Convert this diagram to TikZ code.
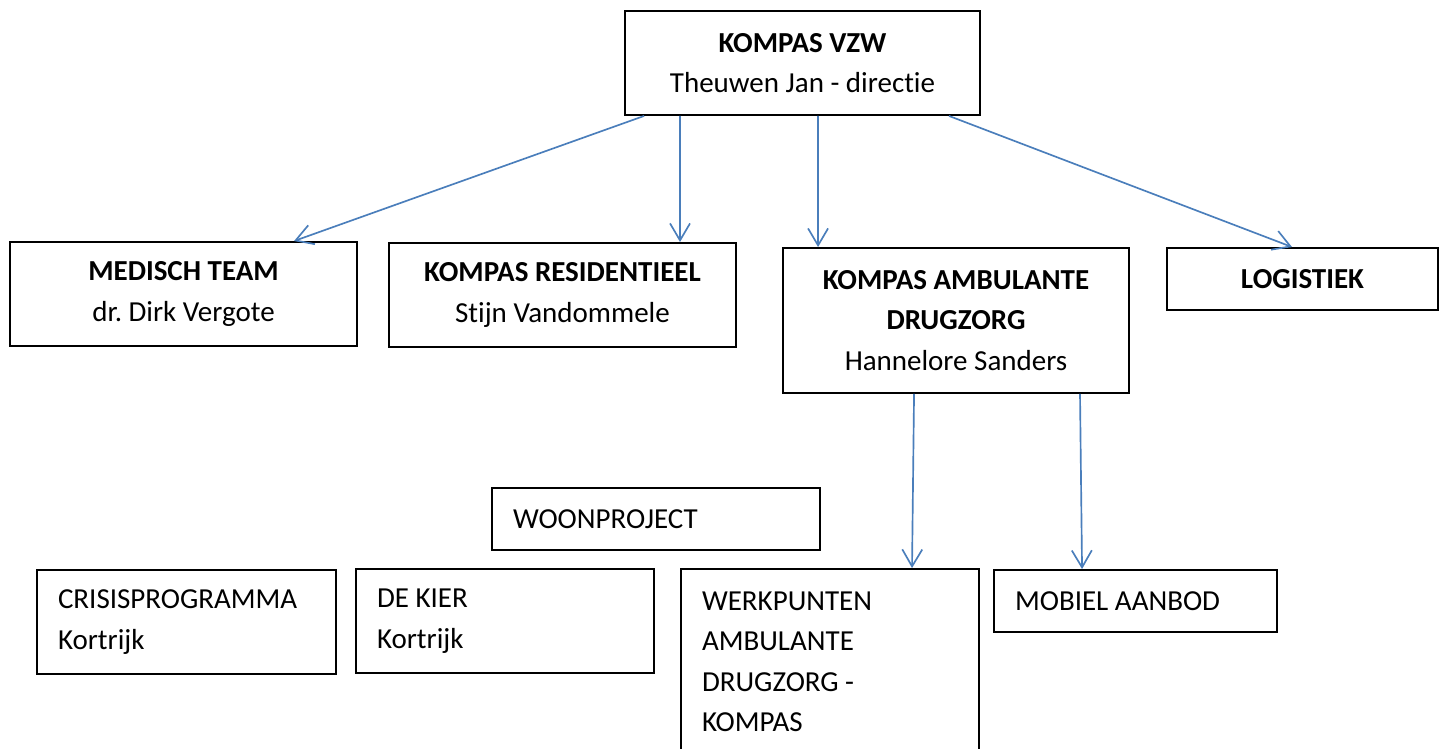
\documentclass[tikz,border=0pt]{standalone}
\usepackage{fontspec}
\setmainfont{Carlito}[Ligatures=NoCommon]
\usetikzlibrary{arrows.meta}
\definecolor{linkblue}{RGB}{74,126,187}
\frenchspacing

\begin{document}
\begin{tikzpicture}[x=0.02cm, y=-0.02cm,
    orgbox/.style={draw, line width=1.1pt, rectangle, align=center, inner sep=0pt,
      font=\fontsize{16.5pt}{23pt}\selectfont},
    listbox/.style={orgbox, align=flush left, inner xsep=0.42cm},
    link/.style={draw=linkblue, line width=0.95pt, -{Straight Barb[length=0.34cm, width=0.4cm]}}]
    \useasboundingbox (0,0) rectangle (1449,749);

    \node [orgbox, minimum width=7.1cm, minimum height=2.08cm] (vzw) at (802.5,63)
      {\textbf{KOMPAS VZW}\\Theuwen Jan - directie};

    \node [orgbox, minimum width=6.94cm, minimum height=2.08cm] (medisch) at (183.5,294)
      {\textbf{MEDISCH TEAM}\\dr. Dirk Vergote};
    \node [orgbox, minimum width=6.94cm, minimum height=2.08cm] (resid) at (562.5,295)
      {\textbf{KOMPAS RESIDENTIEEL}\\Stijn Vandommele};
    \node [orgbox, minimum width=6.92cm, minimum height=2.9cm] (ambul) at (956,320.5)
      {\textbf{KOMPAS AMBULANTE}\\\textbf{DRUGZORG}\\Hannelore Sanders};
    \node [orgbox, minimum width=5.42cm, minimum height=1.24cm] (logist) at (1302.5,279)
      {\textbf{LOGISTIEK}};

    \node [listbox, text width=5.72cm, minimum height=1.24cm] (woon) at (656,519)
      {WOONPROJECT};
    \node [listbox, text width=5.14cm, minimum height=2.08cm] (crisis) at (186.5,622)
      {CRISISPROGRAMMA\\Kortrijk};
    \node [listbox, text width=5.12cm, minimum height=2.08cm] (kier) at (505,621)
      {DE KIER\\Kortrijk};
    \node [listbox, text width=5.12cm, minimum height=3.72cm] (werk) at (830,662)
      {WERKPUNTEN\\AMBULANTE\\DRUGZORG -\\KOMPAS};
    \node [listbox, text width=4.82cm, minimum height=1.24cm] (mobiel) at (1135.5,601)
      {MOBIEL AANBOD};

    \draw [link] ([xshift=0.4cm]vzw.south west) -- ([xshift=5.7cm]medisch.north west);
    \draw [link] ([xshift=1.12cm]vzw.south west) -- ([xshift=5.84cm]resid.north west);
    \draw [link] ([xshift=3.88cm]vzw.south west) -- ([xshift=0.72cm]ambul.north west);
    \draw [link] ([xshift=6.5cm]vzw.south west) -- ([xshift=2.52cm]logist.north west);

    \draw [link] ([xshift=2.64cm]ambul.south west) -- ([xshift=4.64cm]werk.north west);
    \draw [link] ([xshift=5.96cm]ambul.south west) -- ([xshift=1.78cm]mobiel.north west);
\end{tikzpicture}
\end{document}
